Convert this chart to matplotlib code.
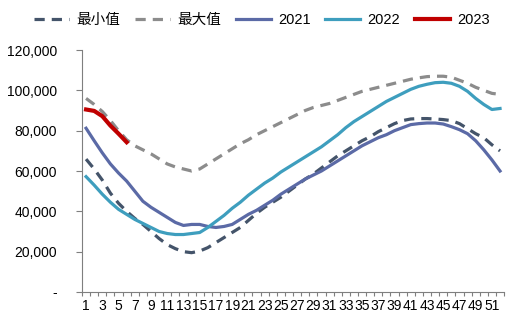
import numpy as np
import matplotlib.pyplot as plt

plt.rcParams['font.family'] = ['Liberation Sans', 'Noto Sans CJK SC', 'DejaVu Sans']

weeks = np.arange(1, 53)

# weekly series, tonnes
v_min = [65.9, 61.0, 55.5, 49.0, 44.0, 40.0, 36.5, 33.5, 30.0, 26.5,
         23.5, 21.5, 20.0, 19.5, 20.3, 22.0, 24.5, 27.0, 29.5, 32.0,
         35.5, 39.0, 42.0, 44.5, 47.0, 50.0, 53.0, 56.0, 58.5, 61.5,
         64.5, 67.5, 70.0, 72.5, 75.0, 77.0, 79.5, 81.5, 83.5, 85.0,
         85.8, 86.0, 86.0, 85.8, 85.5, 85.0, 83.5, 81.0, 78.5, 76.5,
         73.0, 70.0]
v_max = [96.0, 93.0, 89.5, 85.0, 80.0, 75.5, 72.5, 70.5, 68.5, 66.0,
         63.5, 62.0, 61.0, 60.0, 61.0, 63.5, 66.0, 68.5, 71.0, 73.5,
         75.5, 78.0, 80.0, 82.0, 84.0, 86.0, 88.0, 90.0, 91.5, 92.5,
         93.5, 95.0, 96.5, 98.0, 99.5, 100.5, 101.5, 102.5, 103.5, 104.5,
         105.5, 106.2, 106.8, 107.0, 107.0, 106.5, 105.0, 103.5, 101.5, 100.0,
         98.5, 98.0]
v_2021 = [81.2, 75.0, 69.0, 63.5, 59.0, 55.0, 50.0, 45.0, 42.0, 39.5,
          37.0, 34.5, 33.0, 33.5, 33.5, 32.5, 32.0, 32.5, 33.5, 36.0,
          38.5, 40.5, 43.0, 45.5, 48.5, 51.0, 53.5, 56.0, 58.0, 60.0,
          62.5, 65.0, 67.5, 70.0, 72.5, 74.5, 76.5, 78.0, 80.0, 81.5,
          83.0, 83.5, 83.8, 83.8, 83.3, 82.0, 80.5, 78.5, 75.0, 70.5,
          65.5, 60.0]
v_2022 = [57.2, 53.0, 48.5, 44.5, 41.0, 38.5, 36.0, 34.0, 32.0, 30.0,
          29.0, 28.5, 28.5, 29.0, 29.5, 32.0, 35.0, 38.0, 41.5, 44.5,
          48.0, 51.0, 54.0, 56.5, 59.5, 62.0, 64.5, 67.0, 69.5, 72.0,
          75.0, 78.0, 81.5, 84.5, 87.0, 89.5, 92.0, 94.5, 96.5, 98.5,
          100.5, 102.0, 103.0, 103.8, 104.0, 103.5, 102.0, 99.5, 96.0, 93.0,
          90.5, 91.0]
v_2023 = [90.5, 89.8, 87.2, 82.5, 78.5, 74.3]

fig = plt.figure(figsize=(5.24, 3.26), dpi=100)
ax = fig.add_axes([0.1565, 0.1043, 0.8055, 0.7423])

k = 1000
ax.plot(weeks, np.array(v_min) * k, color='#44546A', lw=2.3, ls=(0, (3.2, 2.2)), label='最小值')
ax.plot(weeks, np.array(v_max) * k, color='#8C8C8C', lw=2.3, ls=(0, (3.2, 2.2)), label='最大值')
ax.plot(weeks, np.array(v_2021) * k, color='#5B6AA6', lw=2.3, label='2021')
ax.plot(weeks, np.array(v_2022) * k, color='#3E9EBE', lw=2.3, label='2022')
ax.plot(weeks[:len(v_2023)], np.array(v_2023) * k, color='#C00000', lw=3.0, label='2023')

ax.set_xlim(0.5, 52.5)
ax.set_ylim(0, 120000)

# category boundaries get the ticks, odd weeks get the labels
ax.set_xticks(np.arange(0.5, 53, 1))
ax.set_xticklabels([])
ax.set_xticks(weeks, minor=True)
ax.set_xticklabels([str(w) if w % 2 == 1 else '' for w in weeks], minor=True)
ax.tick_params(axis='x', which='major', length=3, direction='out', color='#7f7f7f', width=0.8)
ax.tick_params(axis='x', which='minor', length=0, pad=5, labelsize=10)

yt = np.arange(0, 120001, 20000)
ax.set_yticks(yt)
ax.set_yticklabels(['-'] + [f'{v:,}' for v in yt[1:]])
ax.tick_params(axis='y', length=4, direction='out', color='#7f7f7f', width=0.8, labelsize=10, pad=14)

for s in ['top', 'right']:
    ax.spines[s].set_visible(False)
for s in ['left', 'bottom']:
    ax.spines[s].set_color('#7f7f7f')
    ax.spines[s].set_linewidth(0.8)

fig.legend(loc='upper center', bbox_to_anchor=(0.5, 1.0), ncol=5, frameon=False,
           fontsize=10.5, handlelength=2.4, handletextpad=0.5, columnspacing=1.0)

fig.savefig('out.png', dpi=100)
